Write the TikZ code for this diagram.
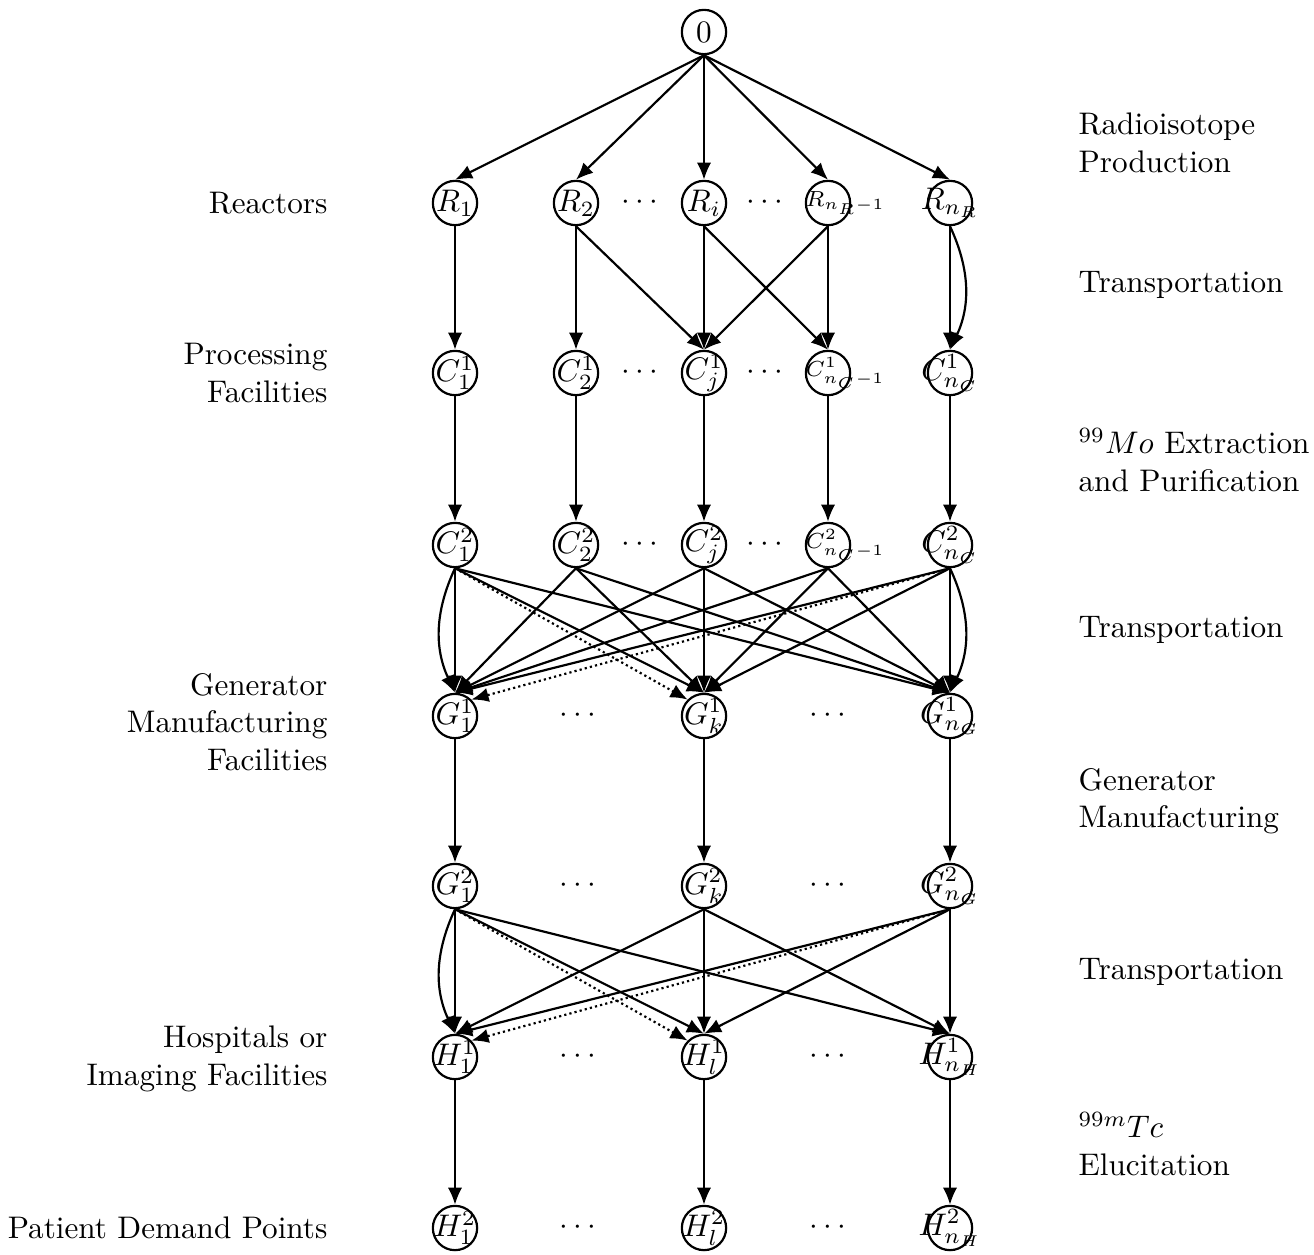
\documentclass[tikz,border=0pt]{standalone}
\usetikzlibrary{arrows.meta}
\begin{document}
\begin{tikzpicture}[x=0.3205pt,y=-0.3205pt,
  nd/.style={circle,draw,line width=0.7pt,minimum size=14.2pt,inner sep=0pt},
  ar/.style={-{Latex[length=5.5pt,width=4.6pt]},line width=0.7pt},
  dotar/.style={ar,densely dotted},
  lft/.style={anchor=east,align=right,inner sep=0pt},
  rgt/.style={anchor=west,align=left,inner sep=0pt},
  dts/.style={inner sep=0pt}]
\useasboundingbox (0,0) rectangle (1314,1255);
\newcommand\zb[1]{\makebox[0pt]{#1}}
% nodes
\node[nd] (O) at (704,32) {\zb{$0$}};
\node[nd] (R1) at (455,203) {\zb{$R_1$}};
\node[nd] (R2) at (576,203) {\zb{$R_2$}};
\node[nd] (Ri) at (704,203) {\zb{$R_i$}};
\node[nd] (Rm) at (828,203) {\zb{\hspace{11pt}$\scriptstyle R_{n_R-1}$}};
\node[nd] (Rn) at (950,203) {\zb{$R_{n_R}$}};
\node[nd] (C11) at (455,373) {\zb{$C^1_1$}};
\node[nd] (C12) at (576,373) {\zb{$C^1_2$}};
\node[nd] (C1j) at (704,373) {\zb{$C^1_j$}};
\node[nd] (C1m) at (828,373) {\zb{\hspace{11pt}$\scriptstyle C^1_{n_C-1}$}};
\node[nd] (C1n) at (950,373) {\zb{$C^1_{n_C}$}};
\node[nd] (C21) at (455,545) {\zb{$C^2_1$}};
\node[nd] (C22) at (576,545) {\zb{$C^2_2$}};
\node[nd] (C2j) at (704,545) {\zb{$C^2_j$}};
\node[nd] (C2m) at (828,545) {\zb{\hspace{11pt}$\scriptstyle C^2_{n_C-1}$}};
\node[nd] (C2n) at (950,545) {\zb{$C^2_{n_C}$}};
\node[nd] (G11) at (455,716) {\zb{$G^1_1$}};
\node[nd] (G1k) at (704,716) {\zb{$G^1_k$}};
\node[nd] (G1n) at (950,716) {\zb{$G^1_{n_G}$}};
\node[nd] (G21) at (455,886) {\zb{$G^2_1$}};
\node[nd] (G2k) at (704,886) {\zb{$G^2_k$}};
\node[nd] (G2n) at (950,886) {\zb{$G^2_{n_G}$}};
\node[nd] (H11) at (455,1057) {\zb{$H^1_1$}};
\node[nd] (H1l) at (704,1057) {\zb{$H^1_l$}};
\node[nd] (H1n) at (950,1057) {\zb{$H^1_{n_H}$}};
\node[nd] (H21) at (455,1228) {\zb{$H^2_1$}};
\node[nd] (H2l) at (704,1228) {\zb{$H^2_l$}};
\node[nd] (H2n) at (950,1228) {\zb{$H^2_{n_H}$}};
% dots
\node[dts] (dR1) at (640,203) {$\cdots$};
\node[dts] (dR2) at (765,203) {$\cdots$};
\node[dts] (dC11) at (640,373) {$\cdots$};
\node[dts] (dC12) at (765,373) {$\cdots$};
\node[dts] (dC21) at (640,545) {$\cdots$};
\node[dts] (dC22) at (765,545) {$\cdots$};
\node[dts] (dG11) at (578,716) {$\cdots$};
\node[dts] (dG12) at (828,716) {$\cdots$};
\node[dts] (dG21) at (578,886) {$\cdots$};
\node[dts] (dG22) at (828,886) {$\cdots$};
\node[dts] (dH11) at (578,1057) {$\cdots$};
\node[dts] (dH12) at (828,1057) {$\cdots$};
\node[dts] (dH21) at (578,1228) {$\cdots$};
\node[dts] (dH22) at (828,1228) {$\cdots$};
% left labels
\node[lft] (L1) at (328,203) {Reactors};
\node[lft] (L2) at (328,373) {Processing\\Facilities};
\node[lft] (L3) at (328,722) {Generator\\Manufacturing\\Facilities};
\node[lft] (L4) at (328,1059) {Hospitals or\\Imaging Facilities};
\node[lft] (L5) at (328,1228) {Patient Demand Points};
% right labels
\node[rgt] (P1) at (1078,143) {Radioisotope\\Production};
\node[rgt] (P2) at (1078,285) {Transportation};
\node[rgt] (P3) at (1078,460) {$^{99}Mo$ Extraction\\and Purification};
\node[rgt] (P4) at (1078,630) {Transportation};
\node[rgt] (P5) at (1078,801) {Generator\\Manufacturing};
\node[rgt] (P6) at (1078,972) {Transportation};
\node[rgt] (P7) at (1078,1144) {$^{99m}Tc$\\Elucitation};
% edges 0 -> R
\foreach \t in {R1,R2,Ri,Rm,Rn} \draw[ar] (O.south) -- (\t.north);
% R -> C1
\draw[ar] (R1.south) -- (C11.north);
\draw[ar] (R2.south) -- (C12.north);
\draw[ar] (R2.south) -- (C1j.north);
\draw[ar] (Ri.south) -- (C1j.north);
\draw[ar] (Ri.south) -- (C1m.north);
\draw[ar] (Rm.south) -- (C1j.north);
\draw[ar] (Rm.south) -- (C1m.north);
\draw[ar] (Rn.south) -- (C1n.north);
\draw[ar] (Rn.south) to[bend left=25] (C1n.north);
% C1 -> C2
\draw[ar] (C11.south) -- (C21.north);
\draw[ar] (C12.south) -- (C22.north);
\draw[ar] (C1j.south) -- (C2j.north);
\draw[ar] (C1m.south) -- (C2m.north);
\draw[ar] (C1n.south) -- (C2n.north);
% C2 -> G1
\foreach \s in {C21,C22,C2j,C2m,C2n}
  \foreach \t in {G11,G1k,G1n}
    \draw[ar] (\s.south) -- (\t.north);
\draw[ar] (C21.south) to[bend right=25] (G11.north);
\draw[dotar] (C21.south) -- (G1k.north west);
\draw[dotar] (C2n.south) -- (G11.north east);
\draw[ar] (C2n.south) to[bend left=25] (G1n.north);
% G1 -> G2
\draw[ar] (G11.south) -- (G21.north);
\draw[ar] (G1k.south) -- (G2k.north);
\draw[ar] (G1n.south) -- (G2n.north);
% G2 -> H1
\foreach \s in {G21,G2k,G2n}
  \foreach \t in {H11,H1l,H1n}
    \draw[ar] (\s.south) -- (\t.north);
\draw[ar] (G21.south) to[bend right=25] (H11.north);
\draw[dotar] (G21.south) -- (H1l.north west);
\draw[dotar] (G2n.south) -- (H11.north east);
% H1 -> H2
\draw[ar] (H11.south) -- (H21.north);
\draw[ar] (H1l.south) -- (H2l.north);
\draw[ar] (H1n.south) -- (H2n.north);
\end{tikzpicture}
\end{document}
